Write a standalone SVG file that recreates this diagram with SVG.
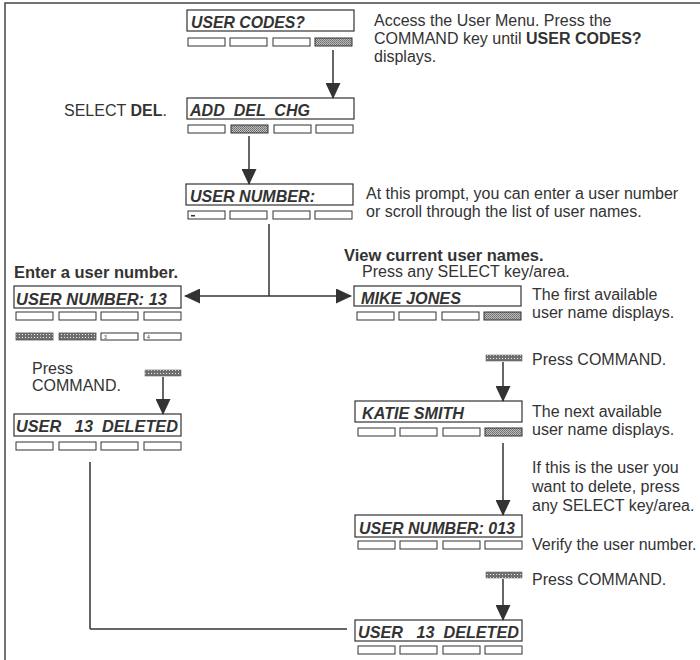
<svg xmlns="http://www.w3.org/2000/svg" width="700" height="660" viewBox="0 0 700 660">
<defs>
<pattern id="dots" width="2" height="2" patternUnits="userSpaceOnUse"><rect width="2" height="2" fill="#bdbdbd"/><rect width="1" height="1" fill="#6a6a6a"/><rect x="1" y="1" width="1" height="1" fill="#7a7a7a"/></pattern>
<pattern id="grid" width="3" height="3" patternUnits="userSpaceOnUse"><rect width="3" height="3" fill="#6f6f6f"/><rect x="1" y="1" width="1" height="1" fill="#f0f0f0"/></pattern>
<marker id="ah" markerWidth="16" markerHeight="15" refX="15" refY="7.5" orient="auto" markerUnits="userSpaceOnUse"><path d="M0,0 L16,7.5 L0,15 Z" fill="#333"/></marker>
</defs>
<style>
.frame{stroke:#444;stroke-width:1.5;fill:none}
.box{fill:#fff;stroke:#333;stroke-width:1.2}
.lcd{font-family:"Liberation Sans",Arial,sans-serif;font-weight:bold;font-style:italic;font-size:17px;fill:#333;white-space:pre}
.btn{fill:#fff;stroke:#333;stroke-width:1}
.btnf{fill:url(#dots);stroke:#333;stroke-width:1}
.btng{fill:url(#grid);stroke:#555;stroke-width:0.8}
.t{font-family:"Liberation Sans",Arial,sans-serif;font-size:16px;fill:#333}
.h{font-family:"Liberation Sans",Arial,sans-serif;font-size:16.5px;font-weight:bold;fill:#333}
.b{font-weight:bold}
.tiny{font-family:"Liberation Sans",Arial,sans-serif;font-size:5px;fill:#333}
.ln{stroke:#333;stroke-width:1.5;fill:none}
.cmd{fill:url(#grid);stroke:#666;stroke-width:0.6}
</style>
<path class="frame" d="M5,660 V3 H700"/>

<g id="n1">
<rect class="box" x="187" y="10" width="167" height="21"/>
<text class="lcd" x="191" y="28" textLength="114" lengthAdjust="spacingAndGlyphs">USER CODES?</text>
<rect class="btn" x="188" y="38" width="37" height="8"/><rect class="btn" x="230" y="38" width="37" height="8"/><rect class="btn" x="273" y="38" width="37" height="8"/><rect class="btnf" x="315" y="38" width="37" height="8"/>
<text class="t" x="374" y="26">Access the User Menu. Press the</text>
<text class="t" x="374" y="44">COMMAND key until <tspan class="b">USER CODES?</tspan></text>
<text class="t" x="374" y="62">displays.</text>
</g>

<g id="n2">
<rect class="box" x="187" y="98" width="167" height="21"/>
<text class="lcd" x="190" y="116" textLength="120" lengthAdjust="spacingAndGlyphs">ADD  DEL  CHG</text>
<rect class="btn" x="188" y="125" width="37" height="8"/><rect class="btnf" x="231" y="125" width="37" height="8"/><rect class="btn" x="274" y="125" width="37" height="8"/><rect class="btn" x="316" y="125" width="37" height="8"/>
<text class="t" x="64" y="116">SELECT <tspan class="b">DEL</tspan>.</text>
</g>

<g id="n3">
<rect class="box" x="186" y="184" width="167" height="21"/>
<text class="lcd" x="190" y="202" textLength="125" lengthAdjust="spacingAndGlyphs">USER NUMBER:</text>
<rect class="btn" x="188" y="211" width="37" height="8"/><rect class="btn" x="230" y="211" width="37" height="8"/><rect class="btn" x="273" y="211" width="37" height="8"/><rect class="btn" x="315" y="211" width="37" height="8"/>
<rect x="191" y="215" width="4" height="1.5" fill="#333"/>
<text class="t" x="366" y="199">At this prompt, you can enter a user number</text>
<text class="t" x="366" y="217">or scroll through the list of user names.</text>
</g>

<g id="n4">
<text class="h" x="14" y="278">Enter a user number.</text>
<rect class="box" x="14" y="286" width="167" height="22"/>
<text class="lcd" x="16" y="305" textLength="151" lengthAdjust="spacingAndGlyphs">USER NUMBER: 13</text>
<rect class="btn" x="16" y="312" width="37" height="8"/><rect class="btn" x="59" y="312" width="37" height="8"/><rect class="btn" x="101" y="312" width="37" height="8"/><rect class="btn" x="144" y="312" width="37" height="8"/>
<rect class="btng" x="16" y="333" width="37" height="7"/><rect class="btng" x="59" y="333" width="37" height="7"/><rect class="btn" x="101" y="333" width="37" height="7"/><rect class="btn" x="144" y="333" width="37" height="7"/>
<text class="tiny" x="104" y="339">3</text><text class="tiny" x="147" y="339">4</text>
</g>

<g id="n5">
<text class="t" x="32" y="374">Press</text>
<text class="t" x="32" y="391">COMMAND.</text>
<rect class="cmd" x="145" y="370" width="36" height="6"/>
<rect class="box" x="14" y="414" width="167" height="22"/>
<text class="lcd" x="16" y="432" textLength="162" lengthAdjust="spacingAndGlyphs">USER   13  DELETED</text>
<rect class="btn" x="16" y="442" width="37" height="8"/><rect class="btn" x="59" y="442" width="37" height="8"/><rect class="btn" x="101" y="442" width="37" height="8"/><rect class="btn" x="144" y="442" width="37" height="8"/>
</g>

<g id="n6">
<text class="h" x="344" y="261">View current user names.</text>
<text class="t" x="362" y="277">Press any SELECT key/area.</text>
<rect class="box" x="354" y="286" width="167" height="20"/>
<text class="lcd" x="361" y="304" textLength="100" lengthAdjust="spacingAndGlyphs">MIKE JONES</text>
<rect class="btn" x="357" y="312" width="37" height="8"/><rect class="btn" x="399" y="312" width="37" height="8"/><rect class="btn" x="442" y="312" width="37" height="8"/><rect class="btnf" x="484" y="312" width="37" height="8"/>
<text class="t" x="532" y="300">The first available</text>
<text class="t" x="532" y="318">user name displays.</text>
</g>

<g id="n7">
<rect class="cmd" x="486" y="355" width="36" height="6"/>
<text class="t" x="532" y="365">Press COMMAND.</text>
<rect class="box" x="355" y="401" width="167" height="21"/>
<text class="lcd" x="362" y="419" textLength="102" lengthAdjust="spacingAndGlyphs">KATIE SMITH</text>
<rect class="btn" x="358" y="428" width="37" height="8"/><rect class="btn" x="400" y="428" width="37" height="8"/><rect class="btn" x="443" y="428" width="37" height="8"/><rect class="btnf" x="485" y="428" width="37" height="8"/>
<text class="t" x="532" y="417">The next available</text>
<text class="t" x="532" y="435">user name displays.</text>
</g>

<g id="n8">
<text class="t" x="532" y="473">If this is the user you</text>
<text class="t" x="532" y="492">want to delete, press</text>
<text class="t" x="532" y="511">any SELECT key/area.</text>
<rect class="box" x="355" y="515" width="167" height="22"/>
<text class="lcd" x="359" y="534" textLength="156" lengthAdjust="spacingAndGlyphs">USER NUMBER: 013</text>
<rect class="btn" x="358" y="541" width="37" height="8"/><rect class="btn" x="400" y="541" width="37" height="8"/><rect class="btn" x="443" y="541" width="37" height="8"/><rect class="btn" x="485" y="541" width="37" height="8"/>
<text class="t" x="532" y="550">Verify the user number.</text>
</g>

<g id="n9">
<rect class="cmd" x="486" y="572" width="36" height="6"/>
<text class="t" x="532" y="585">Press COMMAND.</text>
<rect class="box" x="355" y="620" width="167" height="21"/>
<text class="lcd" x="358" y="638" textLength="161" lengthAdjust="spacingAndGlyphs">USER   13  DELETED</text>
<rect class="btn" x="358" y="646" width="37" height="8"/><rect class="btn" x="400" y="646" width="37" height="8"/><rect class="btn" x="443" y="646" width="37" height="8"/><rect class="btn" x="485" y="646" width="37" height="8"/>
</g>

<g id="connectors">
<line class="ln" x1="333" y1="50" x2="333" y2="98" marker-end="url(#ah)"/>
<line class="ln" x1="249" y1="136" x2="249" y2="184" marker-end="url(#ah)"/>
<line class="ln" x1="269" y1="224" x2="269" y2="296"/>
<line class="ln" x1="269" y1="296" x2="185" y2="296" marker-end="url(#ah)"/>
<line class="ln" x1="269" y1="296" x2="351" y2="296" marker-end="url(#ah)"/>
<line class="ln" x1="163" y1="377" x2="163" y2="414" marker-end="url(#ah)"/>
<line class="ln" x1="90" y1="462" x2="90" y2="629"/>
<line class="ln" x1="90" y1="629" x2="347" y2="629"/>
<line class="ln" x1="503" y1="362" x2="503" y2="401" marker-end="url(#ah)"/>
<line class="ln" x1="503" y1="443" x2="503" y2="515" marker-end="url(#ah)"/>
<line class="ln" x1="503" y1="579" x2="503" y2="620" marker-end="url(#ah)"/>
</g>
</svg>
